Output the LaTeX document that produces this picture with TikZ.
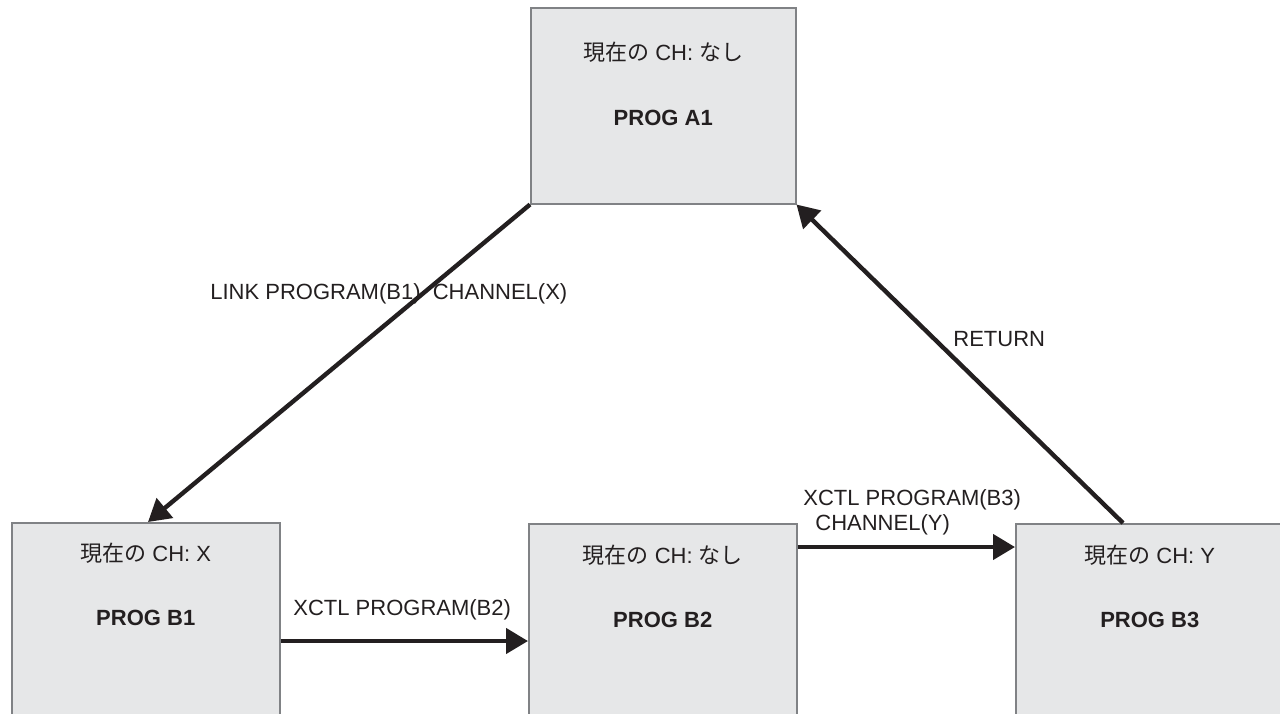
\documentclass[tikz,border=0pt]{standalone}
\usepackage{fontspec}
\setmainfont{Liberation Sans}
\newfontfamily\cjk{Noto Sans CJK JP}
\usetikzlibrary{arrows.meta,calc}
\definecolor{txt}{HTML}{231F20}
\definecolor{boxfill}{HTML}{E6E7E8}
\definecolor{boxline}{HTML}{808285}
\begin{document}
\begin{tikzpicture}[x=0.5pt,y=-0.5pt,
  prog/.style={draw=boxline, fill=boxfill, line width=0.75pt, minimum width=134pt, minimum height=98pt, anchor=north west, inner sep=0pt},
  lbl/.style={text=txt, font=\fontsize{11pt}{12.5pt}\selectfont, inner sep=0pt},
  title/.style={text=txt, font=\fontsize{11pt}{12.5pt}\selectfont\bfseries, inner sep=0pt},
  flow/.style={draw=txt, line width=2.2pt, -{Triangle[length=11pt,width=12.5pt]}}]
\useasboundingbox (0,0) rectangle (1280,713);
\clip (0,0) rectangle (1280,713);
\fill[white] (0,0) rectangle (1280,713);

% boxes
\node[prog, minimum width=132.5pt] (A1) at (530,7) {};
\node[prog] (B1) at (11,522) {};
\node[prog] (B2) at (528,523) {};
\node[prog] (B3) at (1015,523) {};

% box texts
\node[lbl] (A1ch) at ($(A1.north)+(0,45)$) {{\cjk 現在の} CH: {\cjk なし}};
\node[title] (A1nm) at ($(A1.north)+(0,111)$) {PROG A1};
\node[lbl] (B1ch) at ($(B1.north)+(0,31)$) {{\cjk 現在の} CH: X};
\node[title] (B1nm) at ($(B1.north)+(0,96)$) {PROG B1};
\node[lbl] (B2ch) at ($(B2.north)+(0,32)$) {{\cjk 現在の} CH: {\cjk なし}};
\node[title] (B2nm) at ($(B2.north)+(0,97)$) {PROG B2};
\node[lbl] (B3ch) at ($(B3.north)+(0,32)$) {{\cjk 現在の} CH: Y};
\node[title] (B3nm) at ($(B3.north)+(0,97)$) {PROG B3};

% connector labels
\node[lbl, anchor=west] (linkl) at (210,294) {LINK PROGRAM(B1)\ \ CHANNEL(X)};
\node[lbl, anchor=west] (x2l) at (293,610) {XCTL PROGRAM(B2)};
\node[lbl, anchor=north west, align=left] (x3l) at (803,489) {XCTL PROGRAM(B3)\\\hspace*{6pt}CHANNEL(Y)};
\node[lbl, anchor=west] (retl) at (953,339) {RETURN};

% connectors
\draw[flow] (A1.south west) -- ($(B1.north west)+(137,0)$);
\draw[flow] ($(B1.north east)+(0,119)$) -- ($(B2.north west)+(0,118)$);
\draw[flow] ($(B2.north east)+(0,24)$) -- ($(B3.north west)+(0,24)$);
\draw[flow] ($(B3.north west)+(108,0)$) -- (A1.south east);
\end{tikzpicture}
\end{document}
